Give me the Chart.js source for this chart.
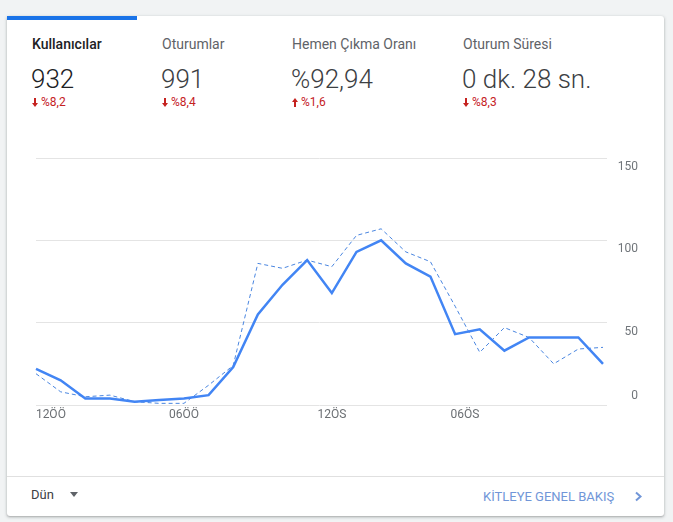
<!DOCTYPE html>
<html lang="tr">
<head>
<meta charset="utf-8">
<script src="https://cdn.jsdelivr.net/npm/chart.js@4.4.1/dist/chart.umd.min.js"></script>
<style>
  html, body { margin: 0; padding: 0; }
  body { width: 673px; height: 522px; background: #f1f3f4; font-family: Roboto, "Noto Sans", sans-serif; position: relative; overflow: hidden; }
  .kart { position: absolute; left: 7px; top: 16px; width: 657px; height: 500px; background: #fff; border-radius: 3px;
          box-shadow: 0 1px 2px rgba(60,64,67,.3), 0 1px 3px 1px rgba(60,64,67,.12); }
  .sekme { position: absolute; left: 7px; top: 16px; width: 130px; height: 4px; background: #1a73e8; }
  .abs { position: absolute; line-height: 1; white-space: nowrap; }
  .baslik { font-size: 14px; color: #5f6368; top: 37px; }
  .baslik.aktif { color: #202124; font-weight: 500; }
  .deger { font-size: 26px; font-weight: 300; color: #3c4043; top: 66px; }
  .deger.aktif { color: #202124; }
  .degisim { font-size: 12px; color: #c5221f; top: 96px; }
  .degisim svg { vertical-align: -1px; margin-right: 3px; }
  .ayrac { position: absolute; left: 7px; top: 476px; width: 657px; height: 1px; background: #e0e0e0; }
  .dun { font-size: 13px; color: #3c4043; left: 31px; top: 488px; }
  .ucgen { position: absolute; left: 70px; top: 492px; width: 0; height: 0;
           border-left: 4px solid transparent; border-right: 4px solid transparent; border-top: 5px solid #5f6368; }
  .link { font-size: 13px; color: #7196d8; left: 483px; top: 490px; }
  .ok { position: absolute; left: 634px; top: 491px; }
  .grafik { position: absolute; left: 0; top: 137px; width: 673px; height: 289px; }
</style>
</head>
<body>
<div class="kart"></div>
<div class="sekme"></div>

<div class="abs baslik aktif" style="left:32px">Kullanıcılar</div>
<div class="abs baslik" style="left:162px">Oturumlar</div>
<div class="abs baslik" style="left:292px">Hemen Çıkma Oranı</div>
<div class="abs baslik" style="left:463px">Oturum Süresi</div>

<div class="abs deger aktif" style="left:31px">932</div>
<div class="abs deger" style="left:161px">991</div>
<div class="abs deger" style="left:291px">%92,94</div>
<div class="abs deger" style="left:462px">0 dk. 28 sn.</div>

<div class="abs degisim" style="left:32px"><svg width="6" height="9" viewBox="0 0 6 9"><path d="M2 0h2v5h2L3 9 0 5h2z" fill="#c5221f"/></svg>%8,2</div>
<div class="abs degisim" style="left:162px"><svg width="6" height="9" viewBox="0 0 6 9"><path d="M2 0h2v5h2L3 9 0 5h2z" fill="#c5221f"/></svg>%8,4</div>
<div class="abs degisim" style="left:292px"><svg width="6" height="9" viewBox="0 0 6 9"><path d="M2 9h2V4h2L3 0 0 4h2z" fill="#c5221f"/></svg>%1,6</div>
<div class="abs degisim" style="left:463px"><svg width="6" height="9" viewBox="0 0 6 9"><path d="M2 0h2v5h2L3 9 0 5h2z" fill="#c5221f"/></svg>%8,3</div>

<div class="grafik"><canvas id="grafikKullanicilar"></canvas></div>

<div class="ayrac"></div>
<div class="abs dun">Dün</div>
<div class="ucgen"></div>
<div class="abs link">KİTLEYE GENEL BAKIŞ</div>
<svg class="ok" width="9" height="11" viewBox="0 0 9 11"><path d="M2 1.5 L6.5 5.5 L2 9.5" fill="none" stroke="#7196d8" stroke-width="2"/></svg>

<script>
// saatler (dün)
const saatler = [
    '12ÖÖ', '01ÖÖ', '02ÖÖ', '03ÖÖ', '04ÖÖ', '05ÖÖ', '06ÖÖ', '07ÖÖ', '08ÖÖ', '09ÖÖ', '10ÖÖ', '11ÖÖ',
    '12ÖS', '01ÖS', '02ÖS', '03ÖS', '04ÖS', '05ÖS', '06ÖS', '07ÖS', '08ÖS', '09ÖS', '10ÖS', '11ÖS'
]
// kullanıcılar - dün
const kullanicilar = [22, 15, 4, 4, 2, 3, 4, 6, 23, 55, 73, 88, 68, 93, 100, 86, 78, 43, 46, 33, 41, 41, 41, 25]
// kullanıcılar - önceki gün (kesikli)
const oncekiGun = [19, 8, 5, 6, 2, 1, 1, 12, 24, 86, 83, 88, 84, 103, 107, 93, 87, 60, 32, 47, 41, 25, 34, 35]
const yEksenDegerleri = [0, 50, 100, 150]

function plotarGraficoKullanicilar() {
    new Chart(document.getElementById('grafikKullanicilar'), {
        type: 'line',
        data: {
            labels: saatler,
            datasets: [{
                label: 'Kullanıcılar',
                data: kullanicilar,
                borderColor: '#4285f4',
                borderWidth: 2.5,
                pointRadius: 0,
                tension: 0,
                order: 1
            }, {
                label: 'Önceki gün',
                data: oncekiGun,
                borderColor: '#4a86e0',
                borderWidth: 1,
                borderDash: [4, 3],
                pointRadius: 0,
                tension: 0,
                order: 2
            }]
        },
        options: {
            responsive: true,
            maintainAspectRatio: false,
            animation: false,
            layout: { padding: { left: 36, right: 35, top: 20, bottom: 0 } },
            plugins: { legend: { display: false }, tooltip: { enabled: false } },
            scales: {
                x: {
                    grid: { display: false, drawTicks: false },
                    border: { display: false },
                    afterFit: (scale) => { scale.height = 20 },
                    ticks: {
                        autoSkip: false,
                        maxRotation: 0,
                        padding: 3,
                        color: '#6b6f73',
                        font: { family: 'Roboto', size: 12 },
                        callback: function (val, i) {
                            if (i % 6 !== 0) return ''
                            let t = saatler[i]
                            // GA ilk etiketi sağa, 06ÖS'yi sola kaydırıyor
                            if (i === 0) t = t.padStart(t.length + 10, ' ')
                            if (i === 18) t = t.padEnd(t.length + 10, ' ')
                            return t
                        }
                    }
                },
                y: {
                    position: 'right',
                    min: 0,
                    max: 150,
                    afterFit: (scale) => { scale.width = 35 },
                    afterBuildTicks: (scale) => { scale.ticks = yEksenDegerleri.map(v => ({ value: v })) },
                    grid: { color: '#e4e4e4', tickLength: 4 },
                    border: { display: false },
                    ticks: {
                        crossAlign: 'far',
                        color: '#70757a',
                        font: { family: 'Roboto', size: 12, lineHeight: 1.5 },
                        // etiketler çizginin altında, 0 üstünde
                        callback: (v) => v === 0 ? ['0', ''] : ['', String(v)]
                    }
                }
            }
        }
    })
}

plotarGraficoKullanicilar()
</script>
</body>
</html>
